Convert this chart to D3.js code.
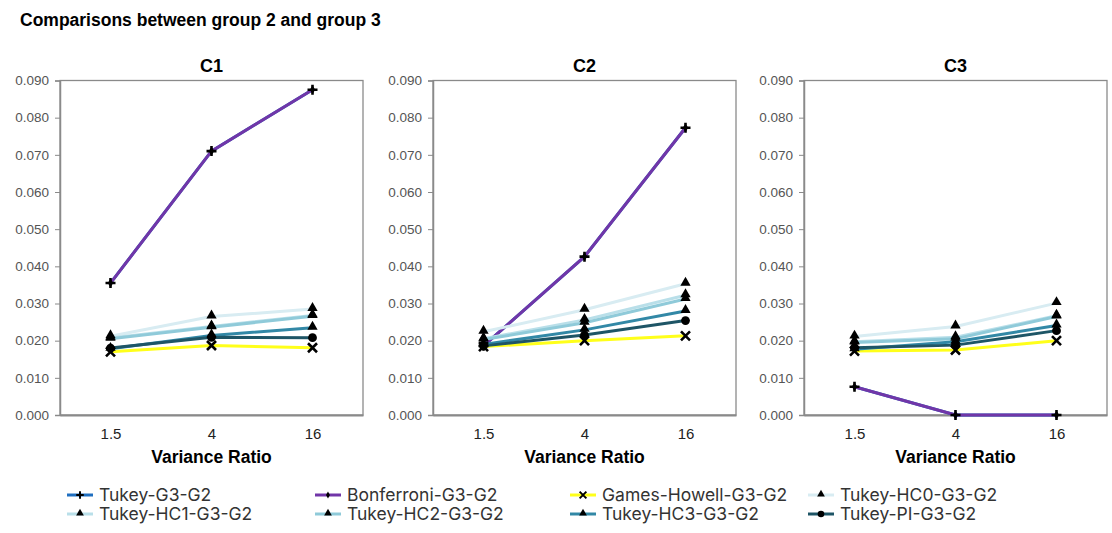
<!DOCTYPE html>
<html>
<head>
<meta charset="utf-8">
<script src="https://cdn.jsdelivr.net/npm/d3@7"></script>
<style>
  body { margin: 0; background: #fff; }
  svg { display: block; font-family: "Liberation Sans", Arial, sans-serif; }
</style>
</head>
<body>
<svg id="chart" width="1112" height="533"></svg>
<script>
var ratios = ["1.5", "4", "16"],
    panels = ["C1", "C2", "C3"],
    yTicks = [0, 0.01, 0.02, 0.03, 0.04, 0.05, 0.06, 0.07, 0.08, 0.09];

var seriesNames = ["Tukey-G3-G2", "Bonferroni-G3-G2", "Games-Howell-G3-G2", "Tukey-HC0-G3-G2",
                   "Tukey-HC1-G3-G2", "Tukey-HC2-G3-G2", "Tukey-HC3-G3-G2", "Tukey-PI-G3-G2"];

// values per panel (C1, C2, C3), each [1.5, 4, 16]
var tukey       = [[0.0355, 0.0710, 0.0875], [0.0186, 0.0426, 0.0773], [0.0076, 0.0000, 0.0000]],
    bonferroni  = [[0.0355, 0.0710, 0.0875], [0.0186, 0.0426, 0.0773], [0.0076, 0.0000, 0.0000]],
    gamesHowell = [[0.0170, 0.0187, 0.0181], [0.0184, 0.0200, 0.0213], [0.0172, 0.0175, 0.0200]],
    hc0         = [[0.0212, 0.0265, 0.0285], [0.0224, 0.0283, 0.0353], [0.0211, 0.0238, 0.0301]],
    hc1         = [[0.0207, 0.0238, 0.0268], [0.0205, 0.0256, 0.0322], [0.0197, 0.0209, 0.0267]],
    hc2         = [[0.0205, 0.0236, 0.0266], [0.0203, 0.0248, 0.0312], [0.0195, 0.0205, 0.0265]],
    hc3         = [[0.0178, 0.0214, 0.0235], [0.0190, 0.0229, 0.0280], [0.0177, 0.0197, 0.0241]],
    tukeyPI     = [[0.0180, 0.0209, 0.0208], [0.0186, 0.0215, 0.0254], [0.0181, 0.0188, 0.0227]];

var seriesValues = [tukey, bonferroni, gamesHowell, hc0, hc1, hc2, hc3, tukeyPI];

var color = d3.scaleOrdinal()
              .domain(seriesNames)
              .range(["#1f6fc0", "#7136a8", "#ffff1a", "#d8ecf2", "#b9dfe9", "#8fcad9", "#3288a6", "#1e5566"]);
var markers = ["plus", "diamond", "cross", "triangle", "triangle", "triangle", "triangle", "circle"];

var panelX = [60, 433, 804],
    panelW = 303,
    plotTop = 80.5,
    plotBottom = 415;

var svg = d3.select("#chart");

svg.append("text")
   .attr("x", 20).attr("y", 26)
   .attr("font-size", 17.5).attr("font-weight", "bold")
   .text("Comparisons between group 2 and group 3");

var y = d3.scaleLinear().domain([0, 0.09]).range([plotBottom, plotTop]);

function drawMarker(g, type, cx, cy) {
  if (type == "triangle") {
    g.append("path").attr("d", d3.symbol(d3.symbolTriangle, 46)())
     .attr("transform", "translate(" + cx + "," + (cy - 1) + ")").attr("fill", "#000");
  } else if (type == "circle") {
    g.append("circle").attr("cx", cx).attr("cy", cy).attr("r", 4.4).attr("fill", "#000");
  } else if (type == "cross") {
    g.append("path").attr("d", "M-4.5,-4.5L4.5,4.5M-4.5,4.5L4.5,-4.5")
     .attr("transform", "translate(" + cx + "," + cy + ")")
     .attr("stroke", "#000").attr("stroke-width", 2.6);
  } else if (type == "plus") {
    g.append("path").attr("d", "M-5,0L5,0M0,-5L0,5")
     .attr("transform", "translate(" + cx + "," + cy + ")")
     .attr("stroke", "#000").attr("stroke-width", 2.6);
  } else if (type == "diamond") {
    g.append("path").attr("d", d3.symbol(d3.symbolDiamond, 24)())
     .attr("transform", "translate(" + cx + "," + cy + ")").attr("fill", "#000");
  }
}

panels.forEach(function(name, p) {
  var x = d3.scalePoint().domain(ratios).range([0, panelW]).padding(0.5);
  var g = svg.append("g").attr("transform", "translate(" + panelX[p] + ",0)");

  g.append("text")
   .attr("x", panelW / 2).attr("y", 72)
   .attr("text-anchor", "middle")
   .attr("font-size", 18).attr("font-weight", "bold")
   .text(name);

  // frame
  g.append("rect")
   .attr("x", 0).attr("y", plotTop).attr("width", panelW).attr("height", plotBottom - plotTop)
   .attr("fill", "none").attr("stroke", "#8a8a8a").attr("stroke-width", 1.3);

  var yAxis = g.append("g")
    .call(d3.axisLeft(y).tickValues(yTicks).tickFormat(d3.format(".3f")).tickSize(5).tickPadding(6));
  yAxis.select(".domain").attr("stroke", "#8a8a8a").attr("stroke-width", 1.5);
  yAxis.selectAll(".tick line").attr("stroke", "#8a8a8a");
  yAxis.selectAll(".tick text").attr("fill", "#555").attr("font-size", 13.5)
       .attr("font-family", "Liberation Sans, Arial, sans-serif");

  var xAxis = g.append("g").attr("transform", "translate(0," + plotBottom + ")")
    .call(d3.axisBottom(x).tickSize(0).tickPadding(13));
  xAxis.select(".domain").attr("stroke", "#8a8a8a").attr("stroke-width", 2.2);
  xAxis.selectAll(".tick text").attr("fill", "#222").attr("font-size", 15)
       .attr("font-family", "Liberation Sans, Arial, sans-serif");

  g.append("text")
   .attr("x", panelW / 2).attr("y", 463)
   .attr("text-anchor", "middle")
   .attr("font-size", 17.5).attr("font-weight", "bold")
   .text("Variance Ratio");

  var line = d3.line()
               .x(function(d, i) { return x(ratios[i]); })
               .y(function(d) { return y(d); });

  seriesNames.forEach(function(s, k) {
    var vals = seriesValues[k][p];
    g.append("path")
     .attr("d", line(vals))
     .attr("fill", "none")
     .attr("stroke", color(s))
     .attr("stroke-width", 3);
  });
  seriesNames.forEach(function(s, k) {
    var vals = seriesValues[k][p];
    vals.forEach(function(v, i) { drawMarker(g, markers[k], x(ratios[i]), y(v)); });
  });
});

// legend
var legendX = [67, 315, 570, 808],
    legendY = [495, 514];

seriesNames.forEach(function(s, k) {
  var lx = legendX[k % 4], ly = legendY[Math.floor(k / 4)];
  var lg = svg.append("g").attr("transform", "translate(" + lx + "," + ly + ")");
  lg.append("line").attr("x1", 0).attr("x2", 26).attr("y1", 0).attr("y2", 0)
    .attr("stroke", color(s)).attr("stroke-width", 3);
  var mg = lg.append("g").attr("transform", "scale(0.75)");
  drawMarker(mg, markers[k], 13 / 0.75, 0);
  lg.append("text")
    .attr("x", 32).attr("y", 0).attr("dy", "0.35em")
    .attr("font-family", "Inter, 'Noto Sans', sans-serif")
    .attr("font-size", 17.5).attr("fill", "#333")
    .text(s);
});
</script>
</body>
</html>
